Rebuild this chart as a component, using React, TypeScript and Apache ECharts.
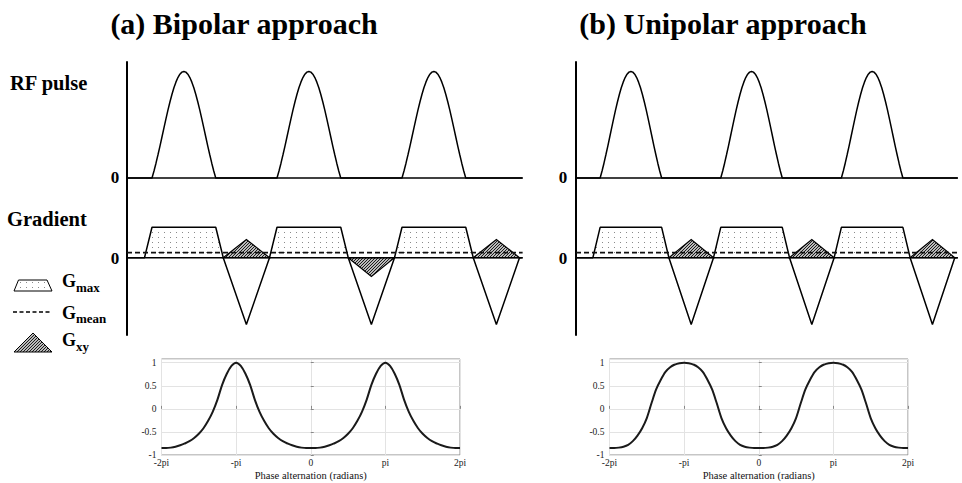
import React, { useEffect, useRef } from 'react';
import * as echarts from 'echarts';

// ---------------- data ----------------
// RF pulse timing (arbitrary time units, TR = 10)
const pulseStarts = [2, 12, 22];
const pulseDuration = 5.1;
// RF pulse envelope read across one pulse (33 samples)
const rfPulseShape = [
  0, 0.066, 0.139, 0.218, 0.3, 0.385, 0.471, 0.555, 0.637, 0.714, 0.784, 0.847, 0.9, 0.943, 0.975, 0.994, 1,
  0.994, 0.975, 0.943, 0.9, 0.847, 0.784, 0.714, 0.637, 0.555, 0.471, 0.385, 0.3, 0.218, 0.139, 0.066, 0,
];
// gradient waveform
const rampTime = 0.6;
const gMax = 1;
const rewinderTime = 3.7;
const rewinderAmp = -2.2;
const sequenceEnd = 31.65;
const gMeanBipolar = 0.17;
const gMeanUnipolar = 0.17;
const gxyBipolar = [0.6, -0.62, 0.6];
const gxyUnipolar = [0.6, 0.6, 0.6];

// phase response, x in units of pi from -2 to 2 in steps of 1/16
const phaseStart = -2;
const phaseStep = 1 / 16;
const signalBipolar = [
  -0.85, -0.85, -0.84, -0.82, -0.79, -0.75, -0.7, -0.63, -0.54, -0.42, -0.26, -0.06, 0.2, 0.52, 0.76, 0.93, 1.0,
  0.93, 0.76, 0.52, 0.2, -0.06, -0.26, -0.42, -0.54, -0.63, -0.7, -0.75, -0.79, -0.82, -0.84, -0.85, -0.85,
  -0.85, -0.84, -0.82, -0.79, -0.75, -0.7, -0.63, -0.54, -0.42, -0.26, -0.06, 0.2, 0.52, 0.76, 0.93, 1.0,
  0.93, 0.76, 0.52, 0.2, -0.06, -0.26, -0.42, -0.54, -0.63, -0.7, -0.75, -0.79, -0.82, -0.84, -0.85, -0.85,
];
const signalUnipolar = [
  -0.85, -0.85, -0.84, -0.82, -0.78, -0.7, -0.58, -0.42, -0.2, 0.12, 0.42, 0.63, 0.8, 0.9, 0.96, 0.99, 1.0,
  0.99, 0.96, 0.9, 0.8, 0.63, 0.42, 0.12, -0.2, -0.42, -0.58, -0.7, -0.78, -0.82, -0.84, -0.85, -0.85,
  -0.85, -0.84, -0.82, -0.78, -0.7, -0.58, -0.42, -0.2, 0.12, 0.42, 0.63, 0.8, 0.9, 0.96, 0.99, 1.0,
  0.99, 0.96, 0.9, 0.8, 0.63, 0.42, 0.12, -0.2, -0.42, -0.58, -0.7, -0.78, -0.82, -0.84, -0.85, -0.85,
];
const phaseTickLabels = ['-2pi', '-pi', '0', 'pi', '2pi'];

const FONT = "'Liberation Serif', 'Times New Roman', serif";

function makeDots(): string {
  const c = document.createElement('canvas');
  c.width = 6;
  c.height = 5;
  const ctx = c.getContext('2d')!;
  ctx.fillStyle = '#ffffff';
  ctx.fillRect(0, 0, 6, 5);
  ctx.fillStyle = '#8a8a8a';
  ctx.fillRect(2, 2, 1, 1);
  return c.toDataURL();
}

function makeHatch(): string {
  const c = document.createElement('canvas');
  c.width = 3;
  c.height = 3;
  const ctx = c.getContext('2d')!;
  ctx.fillStyle = '#ffffff';
  ctx.fillRect(0, 0, 3, 3);
  ctx.strokeStyle = '#111111';
  ctx.lineWidth = 1.1;
  ctx.beginPath();
  ctx.moveTo(-1, 4);
  ctx.lineTo(4, -1);
  ctx.moveTo(-1, 1);
  ctx.lineTo(1, -1);
  ctx.moveTo(2, 4);
  ctx.lineTo(4, 2);
  ctx.stroke();
  return c.toDataURL();
}

function buildTopSeries(xIdx: number, rfIdx: number, gIdx: number, gxy: number[], gMean: number, dots: any, hatch: any) {
  const rfData: number[][] = [[0, 0]];
  pulseStarts.forEach((s) => {
    rfPulseShape.forEach((v, k) => {
      rfData.push([s + (k / (rfPulseShape.length - 1)) * pulseDuration, v]);
    });
  });
  rfData.push([sequenceEnd, 0]);

  const gradData: number[][] = [[0, 0]];
  pulseStarts.forEach((s) => {
    const e = s + pulseDuration + rampTime;
    gradData.push(
      [s - rampTime, 0],
      [s, gMax],
      [s + pulseDuration, gMax],
      [e, 0],
      [e + rewinderTime / 2, rewinderAmp],
      [e + rewinderTime, 0]
    );
  });
  gradData.push([sequenceEnd, 0]);

  const line = (data: number[][], yIdx: number, extra: any = {}) => ({
    type: 'line',
    xAxisIndex: xIdx,
    yAxisIndex: yIdx,
    data,
    symbol: 'none',
    silent: true,
    lineStyle: { color: '#000', width: 1.5, ...extra },
  });

  return [
    {
      type: 'custom',
      xAxisIndex: xIdx,
      yAxisIndex: gIdx,
      silent: true,
      data: pulseStarts.map((s) => [s, gMax]),
      renderItem: (_p: any, api: any) => {
        const s = api.value(0);
        const g = api.value(1);
        const pts = [
          [s - rampTime, 0],
          [s, g],
          [s + pulseDuration, g],
          [s + pulseDuration + rampTime, 0],
        ].map((p) => api.coord(p));
        return { type: 'polygon', shape: { points: pts }, style: { fill: dots, stroke: 'none' } };
      },
    },
    {
      type: 'custom',
      xAxisIndex: xIdx,
      yAxisIndex: gIdx,
      silent: true,
      data: pulseStarts.map((s, i) => [s + pulseDuration + rampTime, gxy[i]]),
      renderItem: (_p: any, api: any) => {
        const e = api.value(0);
        const g = api.value(1);
        const pts = [
          [e, 0],
          [e + rewinderTime / 2, g],
          [e + rewinderTime, 0],
        ].map((p) => api.coord(p));
        return {
          type: 'polygon',
          shape: { points: pts },
          style: { fill: hatch, stroke: '#000', lineWidth: 1.2 },
        };
      },
    },
    line([[0, 0], [sequenceEnd, 0]], rfIdx),
    line(rfData, rfIdx),
    line([[0, 0], [sequenceEnd, 0]], gIdx),
    line(gradData, gIdx),
    line([[0, gMean], [sequenceEnd, gMean]], gIdx, { type: [5, 3], width: 1.8, color: '#111' }),
  ];
}

function buildPhaseSeries(xIdx: number, yIdx: number, values: number[]) {
  return {
    type: 'line',
    xAxisIndex: xIdx,
    yAxisIndex: yIdx,
    data: values.map((v, i) => [phaseStart + i * phaseStep, v]),
    symbol: 'none',
    smooth: 0.3,
    silent: true,
    lineStyle: { color: '#1a1a1a', width: 2 },
  };
}

export default function App() {
  const ref = useRef<HTMLDivElement>(null);

  useEffect(() => {
    if (!ref.current) return;
    const chart = echarts.init(ref.current, null, { renderer: 'svg' });
    const dots = { image: makeDots(), repeat: 'repeat', imageWidth: 6, imageHeight: 5 };
    const hatch = { image: makeHatch(), repeat: 'repeat', imageWidth: 3, imageHeight: 3 };

    const pxPerT = 12.5;
    const xMaxTop = 32;
    const topGrid = (left: number) => ({ left, top: 62, width: xMaxTop * pxPerT, height: 273 });
    // RF axis: 0 at y=178, 1 at y=71.5 ; gradient axis: 0 at 257.7, Gmax at 227.3
    const rfRange = { min: -(335 - 178) / 106.5, max: (178 - 62) / 106.5 };
    const gRange = { min: -(335 - 257.7) / 30.4, max: (257.7 - 62) / 30.4 };

    const hiddenX = (gridIndex: number) => ({ type: 'value', gridIndex, min: 0, max: xMaxTop, show: false });
    const visibleRfY = (gridIndex: number) => ({
      type: 'value',
      gridIndex,
      ...rfRange,
      position: 'left',
      axisLine: { show: true, onZero: false, lineStyle: { color: '#000', width: 2 } },
      axisTick: { show: false },
      axisLabel: { show: false },
      splitLine: { show: false },
    });
    const hiddenGY = (gridIndex: number) => ({ type: 'value', gridIndex, ...gRange, position: 'right', show: false });

    const phaseGrid = (left: number) => ({
      left,
      top: 359,
      width: 298.5,
      height: 96,
      show: true,
      borderColor: '#8c8c8c',
      borderWidth: 1,
    });
    const phaseX = (gridIndex: number) => ({
      type: 'value',
      gridIndex,
      min: -2,
      max: 2,
      interval: 1,
      name: 'Phase alternation (radians)',
      nameLocation: 'middle',
      nameGap: 15,
      nameTextStyle: { fontFamily: FONT, fontSize: 10.5, color: '#111' },
      axisLine: { show: false },
      axisTick: { show: true, inside: true, length: 3, lineStyle: { color: '#888' } },
      axisLabel: {
        fontFamily: FONT,
        fontSize: 9.5,
        color: '#222',
        margin: 3,
        formatter: (v: number) => phaseTickLabels[Math.round(v) + 2] ?? '',
      },
      splitLine: { show: true, lineStyle: { color: '#e3e3e3', width: 1 } },
    });
    const phaseY = (gridIndex: number) => ({
      type: 'value',
      gridIndex,
      min: -1,
      max: 1.08,
      interval: 0.5,
      axisLine: { show: false },
      axisTick: { show: true, inside: true, length: 3, lineStyle: { color: '#888' } },
      axisLabel: { fontFamily: FONT, fontSize: 9.5, color: '#222', margin: 5, showMaxLabel: false },
      splitLine: { show: true, lineStyle: { color: '#e3e3e3', width: 1 } },
    });

    const txt = (text: string, x: number, y: number, size: number, align = 'left', bold = true) => ({
      type: 'text',
      x,
      y,
      silent: true,
      style: {
        text,
        fontFamily: FONT,
        fontSize: size,
        fontWeight: bold ? 'bold' : 'normal',
        fill: '#000',
        align,
        verticalAlign: 'middle',
      },
    });

    const option: any = {
      animation: false,
      backgroundColor: '#fff',
      grid: [topGrid(127), topGrid(576), phaseGrid(161.5), phaseGrid(609.5)],
      xAxis: [hiddenX(0), hiddenX(1), phaseX(2), phaseX(3)],
      yAxis: [visibleRfY(0), hiddenGY(0), visibleRfY(1), hiddenGY(1), phaseY(2), phaseY(3)],
      series: [
        ...buildTopSeries(0, 0, 1, gxyBipolar, gMeanBipolar, dots, hatch),
        ...buildTopSeries(1, 2, 3, gxyUnipolar, gMeanUnipolar, dots, hatch),
        buildPhaseSeries(2, 4, signalBipolar),
        buildPhaseSeries(3, 5, signalUnipolar),
      ],
      graphic: [
        txt('(a) Bipolar approach', 244, 23, 30, 'center'),
        txt('(b) Unipolar approach', 723, 23, 30, 'center'),
        txt('RF pulse', 10, 83, 20.5),
        txt('Gradient', 7, 219, 20.5),
        txt('0', 115, 177, 17, 'center'),
        txt('0', 115, 258, 17, 'center'),
        txt('0', 563, 177, 17, 'center'),
        txt('0', 563, 258, 17, 'center'),
        {
          type: 'polygon',
          silent: true,
          shape: { points: [[14, 291], [18.5, 280], [47, 280], [52, 291]] },
          style: { fill: dots, stroke: '#000', lineWidth: 1 },
        },
        {
          type: 'line',
          silent: true,
          shape: { x1: 13, y1: 312, x2: 50, y2: 312 },
          style: { stroke: '#000', lineWidth: 1.5, lineDash: [4, 2.5] },
        },
        {
          type: 'polygon',
          silent: true,
          shape: { points: [[14, 352], [33, 333], [52, 352]] },
          style: { fill: hatch, stroke: '#000', lineWidth: 1 },
        },
        txt('G', 62, 281, 18),
        txt('max', 76, 287, 13),
        txt('G', 62, 312.5, 18),
        txt('mean', 76, 318, 13),
        txt('G', 62, 339.5, 18),
        txt('xy', 76, 346, 13),
      ],
    };
    chart.setOption(option);
    return () => chart.dispose();
  }, []);

  return <div ref={ref} style={{ position: 'absolute', left: 0, top: 0, width: 962, height: 483 }} />;
}
